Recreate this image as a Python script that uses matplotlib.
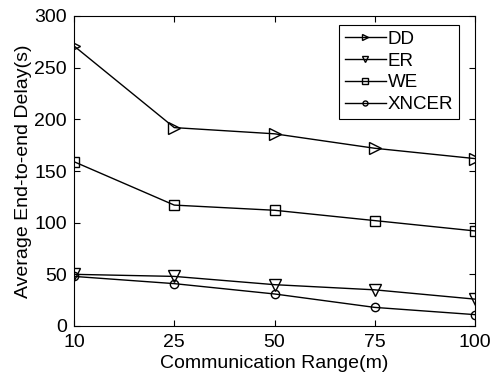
import matplotlib
matplotlib.use("Agg")
import matplotlib.pyplot as plt

x_labels = ["10", "25", "50", "75", "100"]
dd = [271, 192, 186, 172, 162]
er = [50, 48, 40, 35, 26]
we = [159, 117, 112, 102, 92]
xncer = [48, 41, 31, 18, 11]

plt.rcParams['font.family'] = ['Liberation Sans', 'DejaVu Sans']

fig = plt.figure(figsize=(4.91, 3.74), dpi=100)
ax = fig.add_axes([74/491, 1-326/374, (475-74)/491, (326-16)/374])
xs = list(range(len(x_labels)))
kw = dict(color='black', lw=1.0, markerfacecolor='none', markeredgecolor='black', markeredgewidth=1.0)
ax.plot(xs, dd, marker='>', ms=8, label='DD', **kw)
ax.plot(xs, er, marker='v', ms=8, label='ER', **kw)
ax.plot(xs, we, marker='s', ms=7, label='WE', **kw)
ax.plot(xs, xncer, marker='o', ms=6, label='XNCER', **kw)

ax.set_xlim(0, 4)
ax.set_ylim(0, 300)
ax.set_xticks(xs)
ax.set_xticklabels(x_labels)
ax.set_yticks(range(0, 301, 50))
ax.tick_params(direction='in', top=True, right=True, labelsize=14, length=4, pad=5.5)
ax.tick_params(axis='y', pad=5)
ax.set_xlabel('Communication Range(m)', fontsize=14, labelpad=3)
ax.set_ylabel('Average End-to-end Delay(s)', fontsize=14, labelpad=2)
for s in ax.spines.values():
    s.set_linewidth(0.8)
leg = ax.legend(loc='upper right', bbox_to_anchor=(459/491, 1-25/374), bbox_transform=fig.transFigure,
                fancybox=False, edgecolor='black', framealpha=1, fontsize=13.5, markerscale=0.6,
                handlelength=2.2, borderpad=0.3, labelspacing=0.25, handletextpad=0.1, borderaxespad=0)
leg.get_frame().set_linewidth(0.8)
fig.savefig('out.png', dpi=100)
